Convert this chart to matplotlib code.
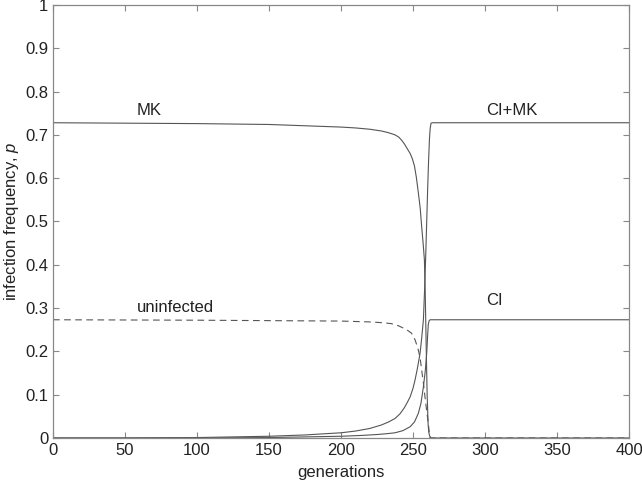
import numpy as np
import matplotlib.pyplot as plt

plt.rcParams['font.family'] = ['Liberation Sans', 'DejaVu Sans']
plt.rcParams['mathtext.fontset'] = 'custom'
plt.rcParams['mathtext.it'] = 'Liberation Sans:italic'

# values
mk_gen = [0, 50, 100, 150, 200, 210, 220, 228, 233, 237.5, 240, 242, 244, 246, 248,
          249.5, 251, 252.3, 253.7, 255, 256, 257, 257.9, 258.5, 259.2, 259.8,
          260.5, 261, 261.5, 262.5, 400]
mk_p = [0.728, 0.727, 0.726, 0.724, 0.718, 0.716, 0.713, 0.709, 0.705, 0.700, 0.695,
        0.688, 0.679, 0.668, 0.657, 0.645, 0.628, 0.602, 0.566, 0.530, 0.488, 0.450,
        0.411, 0.33, 0.20, 0.10, 0.03, 0.012, 0.005, 0.0, 0.0]

cimk_gen = [0, 50, 100, 150, 175, 200, 210, 220, 228, 233, 237.5, 241, 244, 246, 248,
            250, 251.4, 253, 254.9, 256, 257.2, 258, 258.8, 259.5, 260.2, 260.8,
            261.4, 261.9, 262.5, 263.5, 400]
cimk_p = [0.0, 0.0, 0.001, 0.004, 0.007, 0.012, 0.016, 0.022, 0.030, 0.037, 0.045,
          0.056, 0.070, 0.082, 0.095, 0.115, 0.134, 0.160, 0.196, 0.230, 0.273, 0.34,
          0.42, 0.50, 0.58, 0.64, 0.69, 0.715, 0.727, 0.728, 0.728]

ci_gen = [0, 100, 150, 200, 215, 225, 232, 237.5, 243, 248, 251, 253.7, 255.5, 257.2,
          258.5, 259.5, 260.2, 260.6, 261.1, 261.8, 400]
ci_p = [0.0, 0.0, 0.001, 0.004, 0.006, 0.008, 0.010, 0.012, 0.017, 0.026, 0.037,
        0.057, 0.080, 0.118, 0.155, 0.196, 0.240, 0.262, 0.270, 0.273, 0.273]

un_gen = [0, 100, 150, 200, 220, 230, 235, 240, 245.6, 249, 251.5, 253.7, 255, 256,
          257.2, 258.3, 259.5, 260.6, 261.3, 261.8, 400]
un_p = [0.273, 0.272, 0.271, 0.270, 0.268, 0.266, 0.264, 0.259, 0.250, 0.242, 0.226,
        0.203, 0.183, 0.157, 0.127, 0.095, 0.062, 0.034, 0.012, 0.0, 0.0]

labels = ["MK", "CI+MK", "uninfected", "CI"]
label_pos = [(58, 0.746), (300.5, 0.746), (58, 0.291), (300.5, 0.307)]

line_col = '#555555'
axis_col = '#888888'
text_col = '#222222'

fig = plt.figure(figsize=(6.42, 4.86), dpi=100)
ax = fig.add_axes([0.0826, 0.0988, 0.8972, 0.891])

ax.plot(mk_gen, mk_p, color=line_col, lw=0.8)
ax.plot(cimk_gen, cimk_p, color=line_col, lw=0.8)
ax.plot(ci_gen, ci_p, color=line_col, lw=0.8)
ax.plot(un_gen, un_p, color=line_col, lw=0.8, linestyle=(0, (6, 4)))

for txt, (gx, gy) in zip(labels, label_pos):
    ax.text(gx, gy, txt, fontsize=12, color=text_col, ha='left', va='baseline')

ax.set_xlim(0, 400)
ax.set_ylim(0, 1)
ax.set_xticks(np.arange(0, 401, 50))
ax.set_yticks(np.arange(0, 1.01, 0.1))
ax.set_yticklabels(["0", "0.1", "0.2", "0.3", "0.4", "0.5", "0.6", "0.7", "0.8", "0.9", "1"])
ax.tick_params(direction='in', top=True, right=True, length=4, width=0.8,
               color=axis_col, labelsize=12, labelcolor=text_col)
for sp in ax.spines.values():
    sp.set_color(axis_col)
    sp.set_linewidth(0.9)

ax.set_xlabel("generations", fontsize=12, color=text_col, labelpad=5)
ax.set_ylabel("infection frequency, $p$", fontsize=12, color=text_col, labelpad=3)

fig.savefig("out.png", dpi=100)
